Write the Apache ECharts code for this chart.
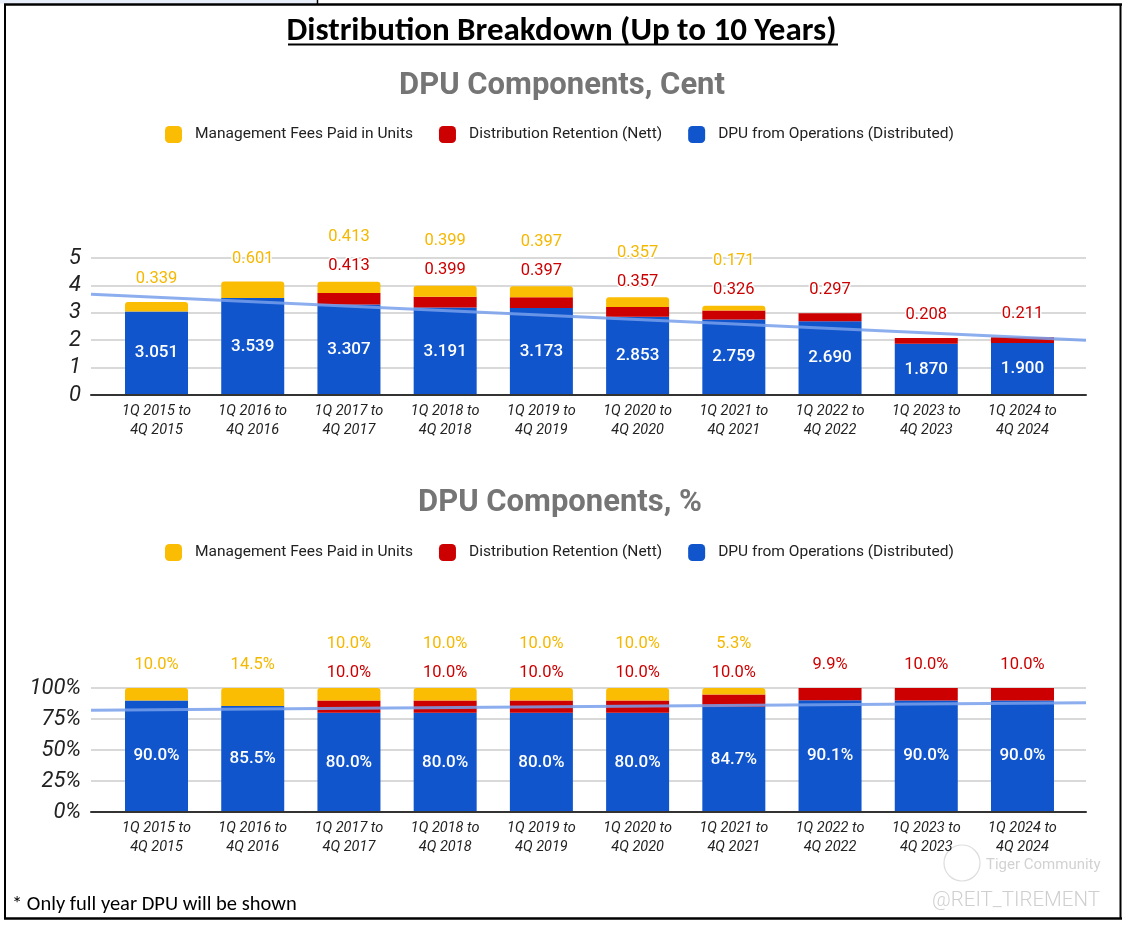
<!DOCTYPE html>
<html>
<head>
<meta charset="utf-8">
<script src="https://cdn.jsdelivr.net/npm/echarts/dist/echarts.min.js"></script>
<style>
html,body{margin:0;padding:0;background:#fff;}
#chart{width:1123px;height:927px;}
</style>
</head>
<body>
<div id="chart"></div>
<script>
// ---- data ----
const categories = [
  '1Q 2015 to\n4Q 2015', '1Q 2016 to\n4Q 2016', '1Q 2017 to\n4Q 2017', '1Q 2018 to\n4Q 2018',
  '1Q 2019 to\n4Q 2019', '1Q 2020 to\n4Q 2020', '1Q 2021 to\n4Q 2021', '1Q 2022 to\n4Q 2022',
  '1Q 2023 to\n4Q 2023', '1Q 2024 to\n4Q 2024'
];
const seriesNames = ['Management Fees Paid in Units', 'Distribution Retention (Nett)', 'DPU from Operations (Distributed)'];
const centOps = [3.051, 3.539, 3.307, 3.191, 3.173, 2.853, 2.759, 2.690, 1.870, 1.900];
const centRetention = [0, 0, 0.413, 0.399, 0.397, 0.357, 0.326, 0.297, 0.208, 0.211];
const centFees = [0.339, 0.601, 0.413, 0.399, 0.397, 0.357, 0.171, 0, 0, 0];
const centTrend = [3.68, 2.00];      // trendline value at left / right edge of plot
const pctOps = [90.0, 85.5, 80.0, 80.0, 80.0, 80.0, 84.7, 90.1, 90.0, 90.0];
const pctRetention = [0, 0, 10.0, 10.0, 10.0, 10.0, 10.0, 9.9, 10.0, 10.0];
const pctFees = [10.0, 14.5, 10.0, 10.0, 10.0, 10.0, 5.3, 0, 0, 0];
const pctTrend = [82.0, 88.1];
const centAxis = {min: 0, max: 5, interval: 1};
const pctAxis = {min: 0, max: 100, interval: 25};

// ---- styles ----
const YELLOW = '#fbbc04', RED = '#cc0000', BLUE = '#1155cc';
const TREND = 'rgba(120,160,236,0.85)';
const FONT = 'Roboto, "Noto Sans", sans-serif';
const CAL = 'Carlito, "Liberation Sans Narrow", "Liberation Sans", sans-serif';

const chart = echarts.init(document.getElementById('chart'));

const fmtCent = v => v.toFixed(3);
const fmtPct = v => v.toFixed(1) + '%';

function topLabel(fees, ret, fmt) {
  const base = {fontFamily: FONT, fontSize: 16.5, lineHeight: 29, textBorderColor: '#fff', textBorderWidth: 3};
  return {
    show: true,
    position: 'top',
    distance: 1,
    formatter: p => {
      const i = p.dataIndex, y = fees[i], r = ret[i];
      if (y > 0 && r > 0) return '{y|' + fmt(y) + '}\n{r|' + fmt(r) + '}';
      if (y > 0) return '{ys|' + fmt(y) + '}';
      return '{rs|' + fmt(r) + '}';
    },
    rich: {
      y: Object.assign({}, base, {color: '#f5b800'}),
      r: Object.assign({}, base, {color: RED}),
      ys: Object.assign({}, base, {color: '#f5b800', padding: [0, 0, 15, 0]}),
      rs: Object.assign({}, base, {color: RED, padding: [0, 0, 15, 0]})
    }
  };
}

function barSeries(ops, ret, fees, axisIdx, fmt, stack) {
  return [
    {
      name: seriesNames[2], type: 'bar', stack: stack, xAxisIndex: axisIdx, yAxisIndex: axisIdx,
      data: ops, barWidth: 63, itemStyle: {color: BLUE},
      label: {show: true, position: 'inside', color: '#fff', fontFamily: FONT, fontSize: 17, fontWeight: 500,
              formatter: p => fmt(p.value)},
      z: 2
    },
    {
      name: seriesNames[1], type: 'bar', stack: stack, xAxisIndex: axisIdx, yAxisIndex: axisIdx,
      data: ret, barWidth: 63, itemStyle: {color: RED}, z: 2
    },
    {
      name: seriesNames[0], type: 'bar', stack: stack, xAxisIndex: axisIdx, yAxisIndex: axisIdx,
      data: fees, barWidth: 63, itemStyle: {color: YELLOW, borderRadius: [3, 3, 0, 0]},
      label: topLabel(fees, ret, fmt), z: 3
    }
  ];
}

function trendSeries(trend, axisIdx) {
  return {
    name: 'trend', type: 'line', xAxisIndex: axisIdx, yAxisIndex: axisIdx,
    data: [[0, trend[0]], [1, trend[1]]],
    showSymbol: false, silent: true,
    lineStyle: {color: TREND, width: 3}, z: 6
  };
}

const gridA = {left: 108.4, right: 52.4};
const gridB = {left: 91, right: 37};
const topChart = {top: 258, height: 137};
const botChart = {top: 688, height: 124};

function catAxis(gridIndex) {
  return {
    type: 'category', gridIndex: gridIndex, data: categories,
    axisLine: {show: false}, axisTick: {show: false},
    axisLabel: {color: '#222', fontFamily: FONT, fontStyle: 'italic', fontSize: 14.5, lineHeight: 19, margin: 7, interval: 0}
  };
}
function edgeAxis(gridIndex) {
  return {
    type: 'value', gridIndex: gridIndex, min: 0, max: 1,
    axisLine: {show: true, onZero: false, lineStyle: {color: '#333', width: 2}},
    axisTick: {show: false}, axisLabel: {show: false}, splitLine: {show: false}, z: 4
  };
}
function hiddenY(gridIndex, ax) {
  return {type: 'value', gridIndex: gridIndex, min: ax.min, max: ax.max, interval: ax.interval, show: false};
}
function visibleY(gridIndex, ax, fmt) {
  return {
    type: 'value', gridIndex: gridIndex, min: ax.min, max: ax.max, interval: ax.interval,
    axisLine: {show: false}, axisTick: {show: false},
    axisLabel: {color: '#222', fontFamily: FONT, fontStyle: 'italic', fontSize: 22, margin: 10, formatter: fmt},
    splitLine: {lineStyle: {color: '#cccccc', width: 1.5}}
  };
}

function legend(top) {
  return {
    top: top, left: 160, orient: 'horizontal',
    data: seriesNames,
    icon: 'roundRect', itemWidth: 17, itemHeight: 17, itemGap: 26,
    textStyle: {color: '#222', fontFamily: FONT, fontSize: 15.5, padding: [0, 0, 0, 8]},
    selectedMode: false
  };
}

const option = {
  backgroundColor: '#fff',
  animation: false,
  title: [
    {text: 'Distribution Breakdown (Up to 10 Years)', left: 'center', top: 10,
     textStyle: {fontFamily: CAL, fontWeight: 'bold', fontSize: 33, color: '#000'}},
    {text: 'DPU Components, Cent', left: 557, textAlign: 'center', top: 66,
     textStyle: {fontFamily: FONT, fontWeight: 'bold', fontSize: 31, color: '#757575'}},
    {text: 'DPU Components, %', left: 555, textAlign: 'center', top: 483,
     textStyle: {fontFamily: FONT, fontWeight: 'bold', fontSize: 31, color: '#757575'}}
  ],
  legend: [legend(121), legend(539)],
  grid: [
    Object.assign({}, gridA, topChart),
    Object.assign({}, gridB, topChart),
    Object.assign({}, gridA, botChart),
    Object.assign({}, gridB, botChart)
  ],
  xAxis: [catAxis(0), edgeAxis(1), catAxis(2), edgeAxis(3)],
  yAxis: [
    hiddenY(0, centAxis), visibleY(1, centAxis, v => String(v)),
    hiddenY(2, pctAxis), visibleY(3, pctAxis, v => v + '%')
  ],
  series: [].concat(
    barSeries(centOps, centRetention, centFees, 0, fmtCent, 'cent'),
    [trendSeries(centTrend, 1)],
    barSeries(pctOps, pctRetention, pctFees, 2, fmtPct, 'pct'),
    [trendSeries(pctTrend, 3)]
  ),
  graphic: [
    // spreadsheet cell remnants at the top-left
    {type: 'rect', shape: {x: 0, y: 0, width: 317, height: 3.5}, style: {fill: '#e8eef9'}, silent: true},
    {type: 'line', shape: {x1: 317.5, y1: 0, x2: 317.5, y2: 4}, style: {stroke: '#000', lineWidth: 1.5}, silent: true},
    // frame
    {type: 'line', shape: {x1: 4, y1: 4.5, x2: 1122, y2: 4.5}, style: {stroke: '#000', lineWidth: 2.5}, silent: true},
    {type: 'line', shape: {x1: 5, y1: 4, x2: 5, y2: 919}, style: {stroke: '#000', lineWidth: 2}, silent: true},
    {type: 'line', shape: {x1: 1120.5, y1: 4, x2: 1120.5, y2: 919}, style: {stroke: '#000', lineWidth: 2}, silent: true},
    {type: 'line', shape: {x1: 4, y1: 918.5, x2: 1122, y2: 918.5}, style: {stroke: '#000', lineWidth: 2.5}, silent: true},
    // title underline
    {type: 'line', shape: {x1: 288, y1: 44.5, x2: 838, y2: 44.5}, style: {stroke: '#000', lineWidth: 2}, silent: true},
    // footnote
    {type: 'text', left: 12, top: 894, style: {text: '* Only full year DPU will be shown', fill: '#000', font: '20.5px ' + CAL}, silent: true},
    // watermark
    {type: 'circle', shape: {cx: 962, cy: 863, r: 18}, style: {fill: 'none', stroke: '#dddddd', lineWidth: 1.2}, silent: true},
    {type: 'text', left: 986, top: 858, style: {text: 'Tiger Community', fill: '#d2d2d2', font: '15px ' + FONT}, silent: true},
    {type: 'text', left: 932, top: 890, style: {text: '@REIT_TIREMENT', fill: '#cfcfcf', font: '300 20.5px ' + FONT}, silent: true}
  ]
};

chart.setOption(option);
</script>
</body>
</html>
